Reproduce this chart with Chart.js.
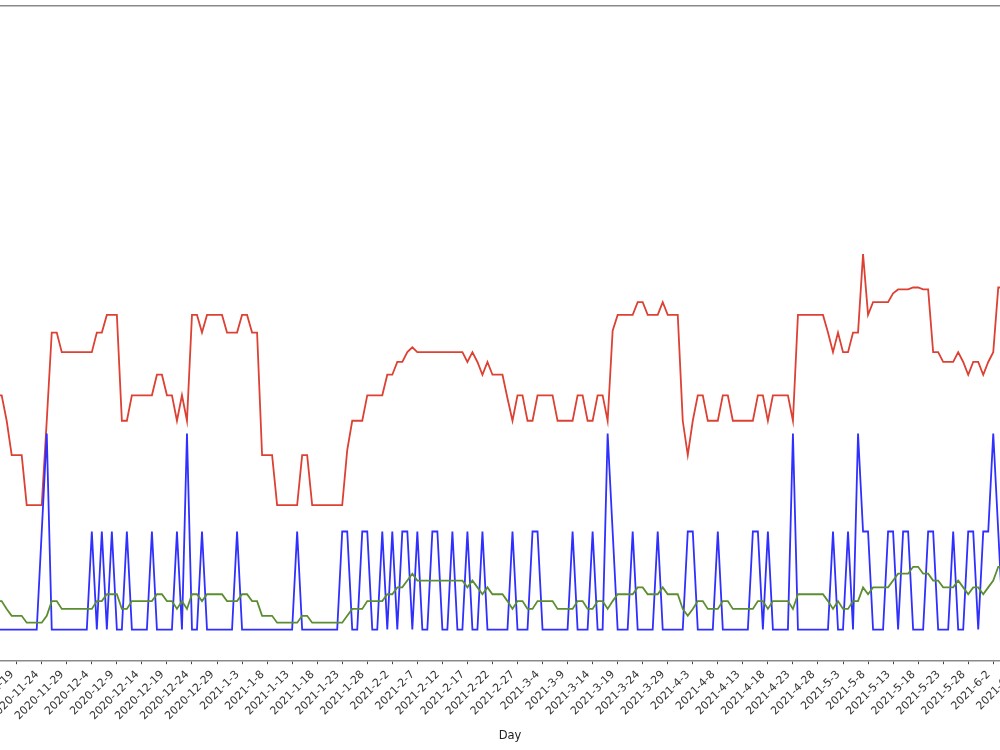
<!DOCTYPE html>
<html>
<head>
<meta charset="utf-8">
<script src="https://cdn.jsdelivr.net/npm/chart.js@4/dist/chart.umd.min.js"></script>
<style>
  html, body { margin: 0; padding: 0; background: #fff; overflow: hidden; }
  body { width: 1000px; height: 750px; position: relative; }
  #wrap { position: absolute; left: -10px; top: 0; width: 1040px; height: 750px; }
</style>
</head>
<body>
<div id="wrap"><canvas id="chart"></canvas></div>
<script>
// one category per day, 2020-11-15 .. 2021-6-8 (the plot is cropped on both sides)
const firstDay = [2020, 11, 15];
const dayCount = 206;
const tickStart = 4;   // 2020-11-19 is the first labelled day
const tickEvery = 5;

const redLevel = [
  2.39, 2.39, 2.13, 1.78, 1.78, 1.78, 1.27, 1.27, 1.27, 1.27,
  2.13, 3.03, 3.03, 2.83, 2.83, 2.83, 2.83, 2.83, 2.83, 2.83,
  3.03, 3.03, 3.21, 3.21, 3.21, 2.13, 2.13, 2.39, 2.39, 2.39,
  2.39, 2.39, 2.60, 2.60, 2.39, 2.39, 2.13, 2.39, 2.13, 3.21,
  3.21, 3.03, 3.21, 3.21, 3.21, 3.21, 3.03, 3.03, 3.03, 3.21,
  3.21, 3.03, 3.03, 1.78, 1.78, 1.78, 1.27, 1.27, 1.27, 1.27,
  1.27, 1.78, 1.78, 1.27, 1.27, 1.27, 1.27, 1.27, 1.27, 1.27,
  1.83, 2.13, 2.13, 2.13, 2.39, 2.39, 2.39, 2.39, 2.60, 2.60,
  2.73, 2.73, 2.83, 2.88, 2.83, 2.83, 2.83, 2.83, 2.83, 2.83,
  2.83, 2.83, 2.83, 2.83, 2.73, 2.83, 2.73, 2.60, 2.73, 2.60,
  2.60, 2.60, 2.36, 2.13, 2.39, 2.39, 2.13, 2.13, 2.39, 2.39,
  2.39, 2.39, 2.13, 2.13, 2.13, 2.13, 2.39, 2.39, 2.13, 2.13,
  2.39, 2.39, 2.13, 3.05, 3.21, 3.21, 3.21, 3.21, 3.34, 3.34,
  3.21, 3.21, 3.21, 3.34, 3.21, 3.21, 3.21, 2.13, 1.78, 2.13,
  2.39, 2.39, 2.13, 2.13, 2.13, 2.39, 2.39, 2.13, 2.13, 2.13,
  2.13, 2.13, 2.39, 2.39, 2.13, 2.39, 2.39, 2.39, 2.39, 2.13,
  3.21, 3.21, 3.21, 3.21, 3.21, 3.21, 3.03, 2.83, 3.03, 2.83,
  2.83, 3.03, 3.03, 3.83, 3.21, 3.34, 3.34, 3.34, 3.34, 3.43,
  3.47, 3.47, 3.47, 3.49, 3.49, 3.47, 3.47, 2.83, 2.83, 2.73,
  2.73, 2.73, 2.83, 2.73, 2.60, 2.73, 2.73, 2.60, 2.73, 2.83,
  3.49, 3.49, null, null, null, null
];

const dailyCount = [
  0, 0, 0, 0, 0, 0, 0, 0, 0, 1,
  2, 0, 0, 0, 0, 0, 0, 0, 0, 1,
  0, 1, 0, 1, 0, 0, 1, 0, 0, 0,
  0, 1, 0, 0, 0, 0, 1, 0, 2, 0,
  0, 1, 0, 0, 0, 0, 0, 0, 1, 0,
  0, 0, 0, 0, 0, 0, 0, 0, 0, 0,
  1, 0, 0, 0, 0, 0, 0, 0, 0, 1,
  1, 0, 0, 1, 1, 0, 0, 1, 0, 1,
  0, 1, 1, 0, 1, 0, 0, 1, 1, 0,
  0, 1, 0, 0, 1, 0, 0, 1, 0, 0,
  0, 0, 0, 1, 0, 0, 0, 1, 1, 0,
  0, 0, 0, 0, 0, 1, 0, 0, 0, 1,
  0, 0, 2, 1, 0, 0, 0, 1, 0, 0,
  0, 0, 1, 0, 0, 0, 0, 0, 1, 1,
  0, 0, 0, 0, 1, 0, 0, 0, 0, 0,
  0, 1, 1, 0, 1, 0, 0, 0, 0, 2,
  0, 0, 0, 0, 0, 0, 0, 1, 0, 0,
  1, 0, 2, 1, 1, 0, 0, 0, 1, 1,
  0, 1, 1, 0, 0, 0, 1, 1, 0, 0,
  0, 1, 0, 0, 1, 1, 0, 1, 1, 2,
  1, 0, null, null, null, null
];

const rollingMean = [
  0.29, 0.29, 0.21, 0.14, 0.14, 0.14, 0.07, 0.07, 0.07, 0.07,
  0.14, 0.29, 0.29, 0.21, 0.21, 0.21, 0.21, 0.21, 0.21, 0.21,
  0.29, 0.29, 0.36, 0.36, 0.36, 0.21, 0.21, 0.29, 0.29, 0.29,
  0.29, 0.29, 0.36, 0.36, 0.29, 0.29, 0.21, 0.29, 0.21, 0.36,
  0.36, 0.29, 0.36, 0.36, 0.36, 0.36, 0.29, 0.29, 0.29, 0.36,
  0.36, 0.29, 0.29, 0.14, 0.14, 0.14, 0.07, 0.07, 0.07, 0.07,
  0.07, 0.14, 0.14, 0.07, 0.07, 0.07, 0.07, 0.07, 0.07, 0.07,
  0.14, 0.21, 0.21, 0.21, 0.29, 0.29, 0.29, 0.29, 0.36, 0.36,
  0.43, 0.43, 0.50, 0.57, 0.50, 0.50, 0.50, 0.50, 0.50, 0.50,
  0.50, 0.50, 0.50, 0.50, 0.43, 0.50, 0.43, 0.36, 0.43, 0.36,
  0.36, 0.36, 0.29, 0.21, 0.29, 0.29, 0.21, 0.21, 0.29, 0.29,
  0.29, 0.29, 0.21, 0.21, 0.21, 0.21, 0.29, 0.29, 0.21, 0.21,
  0.29, 0.29, 0.21, 0.29, 0.36, 0.36, 0.36, 0.36, 0.43, 0.43,
  0.36, 0.36, 0.36, 0.43, 0.36, 0.36, 0.36, 0.21, 0.14, 0.21,
  0.29, 0.29, 0.21, 0.21, 0.21, 0.29, 0.29, 0.21, 0.21, 0.21,
  0.21, 0.21, 0.29, 0.29, 0.21, 0.29, 0.29, 0.29, 0.29, 0.21,
  0.36, 0.36, 0.36, 0.36, 0.36, 0.36, 0.29, 0.21, 0.29, 0.21,
  0.21, 0.29, 0.29, 0.43, 0.36, 0.43, 0.43, 0.43, 0.43, 0.50,
  0.57, 0.57, 0.57, 0.64, 0.64, 0.57, 0.57, 0.50, 0.50, 0.43,
  0.43, 0.43, 0.50, 0.43, 0.36, 0.43, 0.43, 0.36, 0.43, 0.50,
  0.64, 0.64, null, null, null, null
];

function buildDayLabels() {
  const out = [];
  const d = new Date(Date.UTC(firstDay[0], firstDay[1] - 1, firstDay[2]));
  for (let i = 0; i < dayCount; i++) {
    out.push(`${d.getUTCFullYear()}-${d.getUTCMonth() + 1}-${d.getUTCDate()}`);
    d.setUTCDate(d.getUTCDate() + 1);
  }
  return out;
}

const days = buildDayLabels();
const isLabelled = i => i >= tickStart && (i - tickStart) % tickEvery === 0 && i < dayCount - 1;

const fontFamily = '"DejaVu Sans", "Liberation Sans", sans-serif';
const spineColor = '#8a8a8a';

new Chart(document.getElementById('chart'), {
  type: 'line',
  data: {
    labels: days,
    datasets: [
      { label: 'Rolling mean', data: rollingMean, borderColor: '#5b8e30', order: 1 },
      { label: 'Daily count', data: dailyCount, borderColor: '#2f2fff', order: 2 },
      { label: 'Level', data: redLevel, borderColor: '#dc4134', order: 3 }
    ]
  },
  options: {
    responsive: true,
    maintainAspectRatio: false,
    animation: false,
    events: [],
    layout: { padding: { left: 6.67, right: 6.7, top: 5.7, bottom: 0 } },
    elements: {
      line: { borderWidth: 1.8, tension: 0, fill: false },
      point: { radius: 0 }
    },
    plugins: { legend: { display: false }, tooltip: { enabled: false } },
    scales: {
      x: {
        type: 'category',
        position: 'bottom',
        afterFit: s => { s.height = 89.3; s.paddingLeft = 0; s.paddingRight = 0; },
        grid: {
          drawOnChartArea: false,
          drawTicks: true,
          tickLength: 3.5,
          tickWidth: 1,
          tickColor: ctx => isLabelled(ctx.index) ? '#444' : 'rgba(0,0,0,0)'
        },
        border: { display: true, color: spineColor, width: 1.5 },
        ticks: {
          autoSkip: false,
          maxRotation: 45,
          minRotation: 45,
          padding: 4,
          labelOffset: -4.5,
          color: '#333',
          font: { family: fontFamily, size: 11 },
          callback: (v, i) => isLabelled(i) ? days[i] : ''
        },
        title: {
          display: true,
          text: 'Day',
          color: '#222',
          font: { family: fontFamily, size: 11.5 },
          padding: { top: 0, bottom: 7 }
        }
      },
      xTop: {
        type: 'category',
        position: 'top',
        grid: { display: false, drawTicks: false },
        ticks: { display: false },
        border: { display: true, color: spineColor, width: 1.5 }
      },
      y: {
        display: false,
        min: -0.318,
        max: 6.365
      }
    }
  }
});
</script>
</body>
</html>
